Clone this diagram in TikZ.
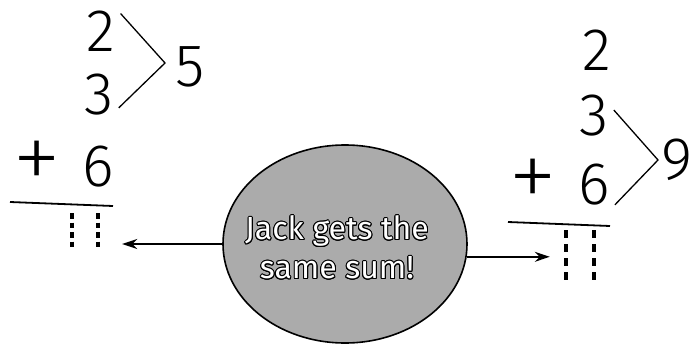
\documentclass[tikz,border=0pt]{standalone}
\usepackage{fontspec}
\setmainfont{Fira Sans}
\newfontfamily\digitfont{Fira Sans Light}
\newfontfamily\plusfont{Fira Sans ExtraLight}
\usepackage{contour}
\contourlength{1pt}
\usetikzlibrary{arrows.meta,calc,shapes.geometric}

\tikzset{
  digit/.style={font=\digitfont\fontsize{60}{60}\selectfont, inner sep=0pt},
  plusop/.style={font=\plusfont\fontsize{100}{100}\selectfont, inner sep=0pt},
  bracket/.style={line width=1.3pt},
  sumrule/.style={line width=1.8pt},
  dotnum/.style={line width=3.5pt},
  pointer/.style={-{Stealth[length=15pt,width=10pt]}, line width=1.5pt},
}

\begin{document}
\begin{tikzpicture}[x=1pt, y=-1pt]
  \useasboundingbox (0,0) rectangle (693,345);
  % left sum: 2+3 first
  \node[digit] (l2) at (101,31) {2};
  \node[digit] (l3) at (99,95) {3};
  \node[digit] (l5) at (190,67) {5};
  \node[plusop] (lplus) at (37,166) {+};
  \node[digit] (l6) at (98,167) {6};
  \coordinate (lvertex) at (165,63);
  \draw[bracket] ($(l2.north east)+(5,3)$) -- (lvertex) -- ($(l3.south east)+(5,-8)$);
  \draw[sumrule] (10,202) -- (113,206);
  \node[minimum width=74pt, minimum height=34pt, inner sep=0pt] (lans) at (85,230) {};
  \draw[dotnum, dash pattern=on 5.5pt off 4pt] ($(lans.center)+(-13,-17)$) -- ++(0,34);
  \draw[dotnum, dash pattern=on 5.5pt off 4pt] ($(lans.center)+(13,-17)$) -- ++(0,34);

  % right sum: 3+6 first
  \node[digit] (r2) at (597,50) {2};
  \node[digit] (r3) at (594,116) {3};
  \node[plusop] (rplus) at (533,184) {+};
  \node[digit] (r6) at (594,185) {6};
  \node[digit] (r9) at (677,160) {9};
  \coordinate (rvertex) at (658,160);
  \draw[bracket] ($(r3.east)+(5,-6)$) -- (rvertex) -- ($(r6.south east)+(5,-1)$);
  \draw[sumrule] (508,222) -- (610,226);
  \node[minimum width=60pt, minimum height=50pt, inner sep=0pt] (rans) at (580,255) {};
  \draw[dotnum, dash pattern=on 8pt off 6pt] ($(rans.center)+(-14,-25)$) -- ++(0,50);
  \draw[dotnum, dash pattern=on 8pt off 6pt] ($(rans.center)+(14,-25)$) -- ++(0,50);

  % speech bubble
  \node[ellipse, draw, line width=1.6pt, fill=black!33, minimum width=244pt, minimum height=198pt,
        inner sep=0pt] (bubble) at (345,244) {};
  \node[align=center, font=\fontsize{32}{39}\selectfont] (bubbletext) at (337,248)
        {\contour{black}{\textcolor{white}{Jack gets the}}\\\contour{black}{\textcolor{white}{same sum!}}};
  \draw[pointer] (bubble.west) -- (bubble.west -| lans.east);
  \draw[pointer] (bubble.-6) -- (bubble.-6 -| rans.west);
\end{tikzpicture}
\end{document}
